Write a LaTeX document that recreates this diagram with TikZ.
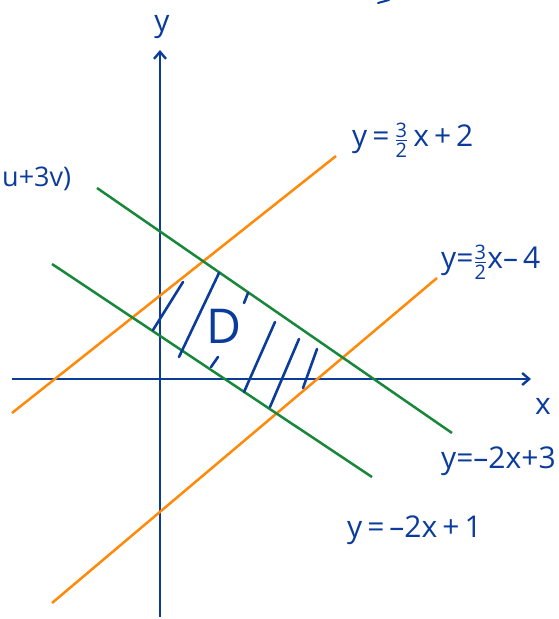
\documentclass[tikz,border=0pt]{standalone}
\usepackage{amsmath}
\usepackage{fontspec}
\setmainfont{Open Sans}
\usetikzlibrary{arrows.meta}
\definecolor{pen}{HTML}{0B3C9C}
\definecolor{orng}{HTML}{FF8A0A}
\definecolor{grn}{HTML}{17873A}
\newcommand{\hfr}[2]{\ensuremath{\genfrac{}{}{1.6pt}{}{\mbox{\fontsize{20}{20}\selectfont #1}}{\mbox{\fontsize{20}{20}\selectfont #2}}}}
\tikzset{
  axis/.style={draw=pen, line width=2.6pt, -{Straight Barb[length=7pt,width=12pt,line width=2.4pt]}},
  oline/.style={draw=orng, line width=2.5pt},
  gline/.style={draw=grn, line width=2.5pt},
  hatch/.style={draw=pen, line width=2.6pt, line cap=round},
  lbl/.style={text=pen, font=\fontsize{30}{30}\selectfont, inner sep=0pt},
}
\begin{document}
\begin{tikzpicture}[x=1pt,y=-1pt]
\useasboundingbox (0,0) rectangle (558,619);
% axes
\coordinate (yb) at (160,617);
\coordinate (yt) at (160,50);
\coordinate (xl) at (12,379);
\coordinate (xr) at (531,379);
\draw[axis] (yb) -- (yt);
\draw[axis] (xl) -- (xr);
\node[lbl] (ylab) at (162,27) {y};
\node[lbl] (xlab) at (543,406) {x};
% orange lines
\coordinate (o1a) at (12,413);
\coordinate (o1b) at (336,156);
\coordinate (o2a) at (52,603);
\coordinate (o2b) at (437,278);
\draw[oline] (o1a) -- (o1b);
\draw[oline] (o2a) -- (o2b);
% green lines
\coordinate (g1a) at (97,188);
\coordinate (g1b) at (452,433);
\coordinate (g2a) at (52,264);
\coordinate (g2b) at (372,477);
\draw[gline] (g1a) -- (g1b);
\draw[gline] (g2a) -- (g2b);
% hatching
\coordinate (h1a) at (183,282); \coordinate (h1b) at (153,330);
\coordinate (h2a) at (219,273); \coordinate (h2b) at (179,357);
\coordinate (h3a) at (248,293); \coordinate (h3b) at (244,303);
\coordinate (h4a) at (218,357); \coordinate (h4b) at (211,367);
\coordinate (h5a) at (275,322); \coordinate (h5b) at (244,392);
\coordinate (h6a) at (299,339); \coordinate (h6b) at (270,407);
\coordinate (h7a) at (317,349); \coordinate (h7b) at (303,388);
\foreach \h in {1,...,7} {\draw[hatch] (h\h a) -- (h\h b);}
\node[lbl, font=\fontsize{48}{48}\selectfont] (D) at (224,326) {D};
% labels
\node[lbl, anchor=west] (l1) at (352,140) {y\,=\,\hfr{3}{2}\,x\,+\,2};
\node[lbl, anchor=west] (l2) at (441,262) {y=\hfr{3}{2}x–\,4};
\node[lbl, anchor=west] (l3) at (441,461) {y=–2x+3};
\node[lbl, anchor=west] (l4) at (347,530) {y\,=\,–2x\,+\,1};
\node[lbl, anchor=west, font=\fontsize{27}{27}\selectfont] (l5) at (2,179) {u+3v)};
\coordinate (s1) at (378,3);
\coordinate (s2) at (389,0);
\draw[hatch, line width=2pt] (s1) -- (s2);
\end{tikzpicture}
\end{document}
